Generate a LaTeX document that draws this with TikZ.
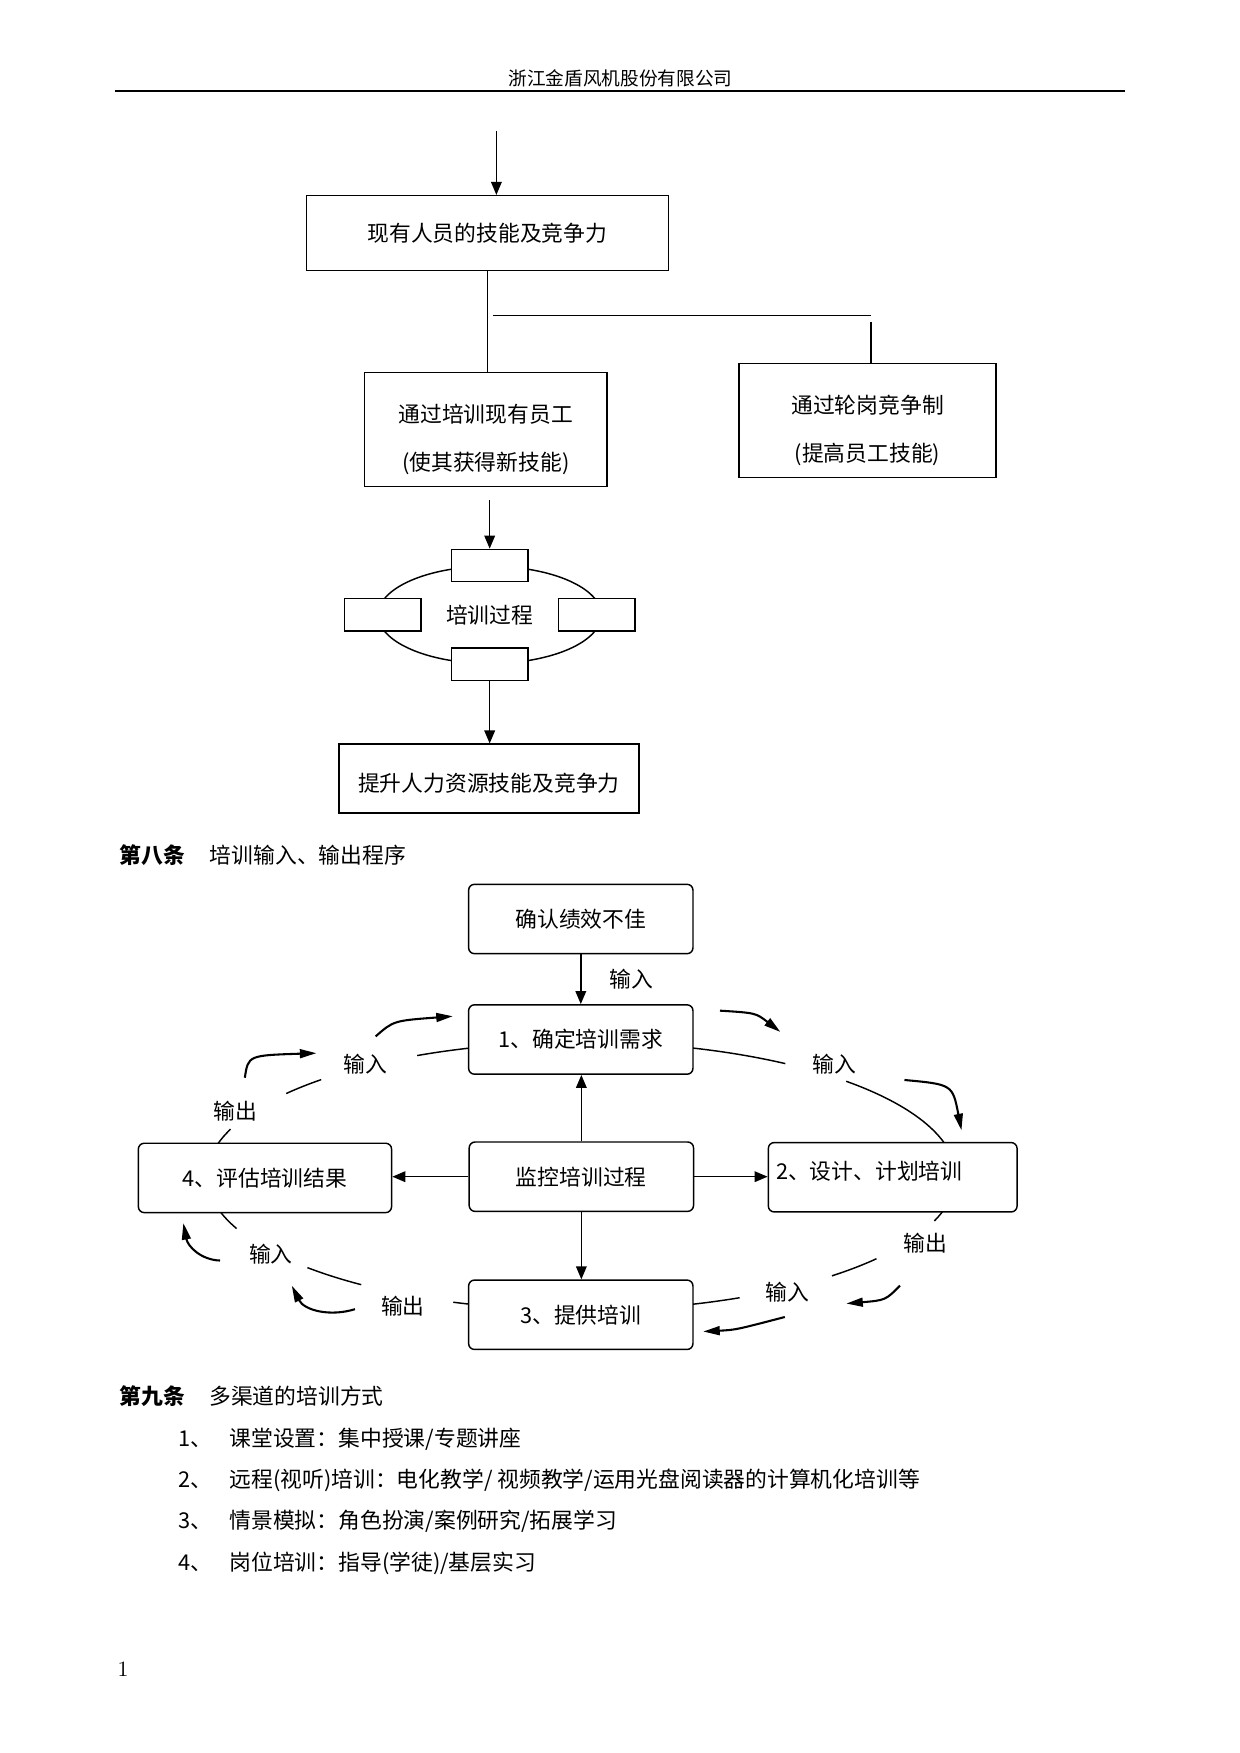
\documentclass[tikz,border=0pt]{standalone}
\usepackage{fontspec}
\usepackage{xcolor}
\usetikzlibrary{positioning,shapes.geometric,arrows.meta}
\newfontfamily\cjk{Noto Sans CJK SC}

\begin{document}
\begin{tikzpicture}[x=0.018936cm,y=-0.018936cm]
        \tikzset{txt/.style={font=\cjk\fontsize{10.5}{13}\selectfont,inner sep=0pt},
            boldtxt/.style={txt,anchor=west,font=\cjk\bfseries\fontsize{10.5}{13}\selectfont},
            box/.style={txt,draw,line width=0.7pt,fill=white},
            twoline/.style={box,align=center,font=\cjk\fontsize{10.5}{23}\selectfont,text height=1.43cm,text depth=0.05cm},
            rbox/.style={box,rounded corners=0.1cm,minimum width=3.8cm,minimum height=1.175cm},
            tab/.style={box,minimum width=1.297cm,minimum height=0.549cm},
            arr/.style={draw,line width=0.7pt,-{Triangle[length=2.2mm,width=1.8mm]}},
            swing/.style={draw,line width=1pt,-{Triangle[length=2.8mm,width=1.5mm]}},
            ring/.style={draw,line width=0.7pt,x radius=335,y radius=120}}
        \useasboundingbox (0,0) rectangle (1109,1568);
        \node[txt,font=\cjk\fontsize{9}{11}\selectfont] (head) at (555,70) {浙江金盾风机股份有限公司};
        \coordinate (ruleL) at (103,81);
        \coordinate (ruleR) at (1006,81);
        \draw[line width=1pt] (ruleL) -- (ruleR);

        \node[box,minimum width=6.135cm,minimum height=1.269cm] (skill) at (436,208.5) {现有人员的技能及竞争力};
        \node[twoline,minimum width=4.109cm,minimum height=1.931cm] (retrain) at (434.5,384) {通过培训现有员工\\(使其获得新技能)};
        \node[twoline,minimum width=4.355cm,minimum height=1.931cm] (rotate) at (776,376) {通过轮岗竞争制\\(提高员工技能)};
        \coordinate (feed) at (444,117);
        \draw[arr] (feed) -- (feed |- skill.north);
        \draw[line width=0.7pt] (skill.south) -- (skill.south |- retrain.north);
        \coordinate (forkL) at (441,282);
        \coordinate (forkR) at (779,282);
        \coordinate (forkD) at (779,288);
        \draw[line width=0.7pt] (forkL) -- (forkR);
        \draw[line width=0.7pt] (forkD) -- (forkD |- rotate.north);

        \node[txt,draw,ellipse,line width=0.7pt,minimum width=3.78cm,minimum height=1.647cm] (process) at (438,550) {培训过程};
        \node[tab] (tabN) at (process.north) {};
        \node[tab] (tabS) at (process.south) {};
        \node[tab] (tabW) at ([xshift=0.09cm]process.west) {};
        \node[tab] (tabE) at ([xshift=-0.09cm]process.east) {};
        \draw[arr] (retrain.south -| tabN.north) ++(0,12) -- (tabN.north);
        \node[box,minimum width=5.084cm,minimum height=1.168cm,text height=0.5cm,text depth=0.05cm] (lift) at (437.3,696.5) {提升人力资源技能及竞争力};
        \draw[arr] (tabS.south) -- (tabS.south |- lift.north);

        \node[boldtxt] (art8) at (106.5,765) {第八条};
        \node[txt,right=0.41cm of art8] (art8t) {培训输入、输出程序};

        \coordinate (ringC) at (520,1052);
        \draw[ring] (ringC) ++(-116:335 and 120) arc[start angle=-116,end angle=-106]
            (ringC) ++(-74:335 and 120) arc[start angle=-74,end angle=-57]
            (ringC) ++(-45:335 and 120) arc[start angle=-45,end angle=-12]
            (ringC) ++(13:335 and 120) arc[start angle=13,end angle=19.5]
            (ringC) ++(38:335 and 120) arc[start angle=38,end angle=48]
            (ringC) ++(65:335 and 120) arc[start angle=65,end angle=74]
            (ringC) ++(106:335 and 120) arc[start angle=106,end angle=110]
            (ringC) ++(126:335 and 120) arc[start angle=126,end angle=137]
            (ringC) ++(157:335 and 120) arc[start angle=157,end angle=166]
            (ringC) ++(-168:335 and 120) arc[start angle=-168,end angle=-159.5]
            (ringC) ++(-142:335 and 120) arc[start angle=-142,end angle=-134];

        \node[rbox] (poor) at (519.5,822) {确认绩效不佳};
        \node[rbox] (need) at (519.5,929.8) {1、确定培训需求};
        \node[rbox] (watch) at (520,1052.5) {监控培训过程};
        \node[rbox] (give) at (519.5,1176) {3、提供培训};
        \node[rbox,minimum width=4.289cm] (judge) at (237,1053.6) {4、评估培训结果};
        \node[rbox,minimum width=4.213cm,text width=3.95cm,align=left,text height=0.33cm,text depth=0.27cm] (plan) at (798.5,1053) {2、设计、计划培训};
        \draw[arr] (poor) -- node[txt,right=0.48cm] (inTop) {输入} (need);
        \draw[arr] (watch.north) -- (watch.north |- need.south);
        \draw[arr] (watch.west) -- (watch.west -| judge.east);
        \draw[arr] (watch.east) -- (watch.east -| plan.west);
        \draw[arr] (watch.south) -- (watch.south |- give.north);

        \node[txt] (inNW) at (326.5,951.6) {输入};
        \node[txt] (outNW) at (210.5,994.3) {输出};
        \node[txt] (inNE) at (746,951.6) {输入};
        \node[txt] (outE) at (828,1112) {输出};
        \node[txt] (inSE) at (704,1156) {输入};
        \node[txt] (outSW) at (360.3,1168) {输出};
        \node[txt] (inW) at (242.3,1121.5) {输入};
        \draw[swing] (336,927) .. controls (352,913) .. (405,909);
        \draw[swing] (219,964) .. controls (222,944) .. (283,942);
        \draw[swing] (644,904) .. controls (676,906) .. (698,923);
        \draw[swing] (809,966) .. controls (852,970) .. (860,1011);
        \draw[swing] (805,1150) .. controls (792,1163) .. (757,1166);
        \draw[swing] (702,1178) .. controls (658,1189.5) .. (629,1191);
        \draw[swing] (317.5,1171) .. controls (295,1178) and (272,1172) .. (261,1150);
        \draw[swing] (196.8,1127.5) .. controls (180,1127) and (168,1115) .. (164,1094);

        \node[boldtxt] (art9) at (106.5,1249) {第九条};
        \node[txt,right=0.4cm of art9] (art9t) {多渠道的培训方式};
        \node[txt,anchor=west] (num1) at (159,1287) {1、};
        \node[txt,anchor=west] (item1) at (205,1287) {课堂设置：集中授课/专题讲座};
        \node[txt,anchor=west] (num2) at (159,1324) {2、};
        \node[txt,anchor=west] (item2) at (205,1324) {远程(视听)培训：电化教学/ 视频教学/运用光盘阅读器的计算机化培训等};
        \node[txt,anchor=west] (num3) at (159,1361) {3、};
        \node[txt,anchor=west] (item3) at (205,1361) {情景模拟：角色扮演/案例研究/拓展学习};
        \node[txt,anchor=west] (num4) at (159,1398) {4、};
        \node[txt,anchor=west] (item4) at (205,1398) {岗位培训：指导(学徒)/基层实习};

        \node[font=\fontsize{10.5}{13}\selectfont,inner sep=0pt] (pageno) at (110,1493) {1};
\end{tikzpicture}
\end{document}
